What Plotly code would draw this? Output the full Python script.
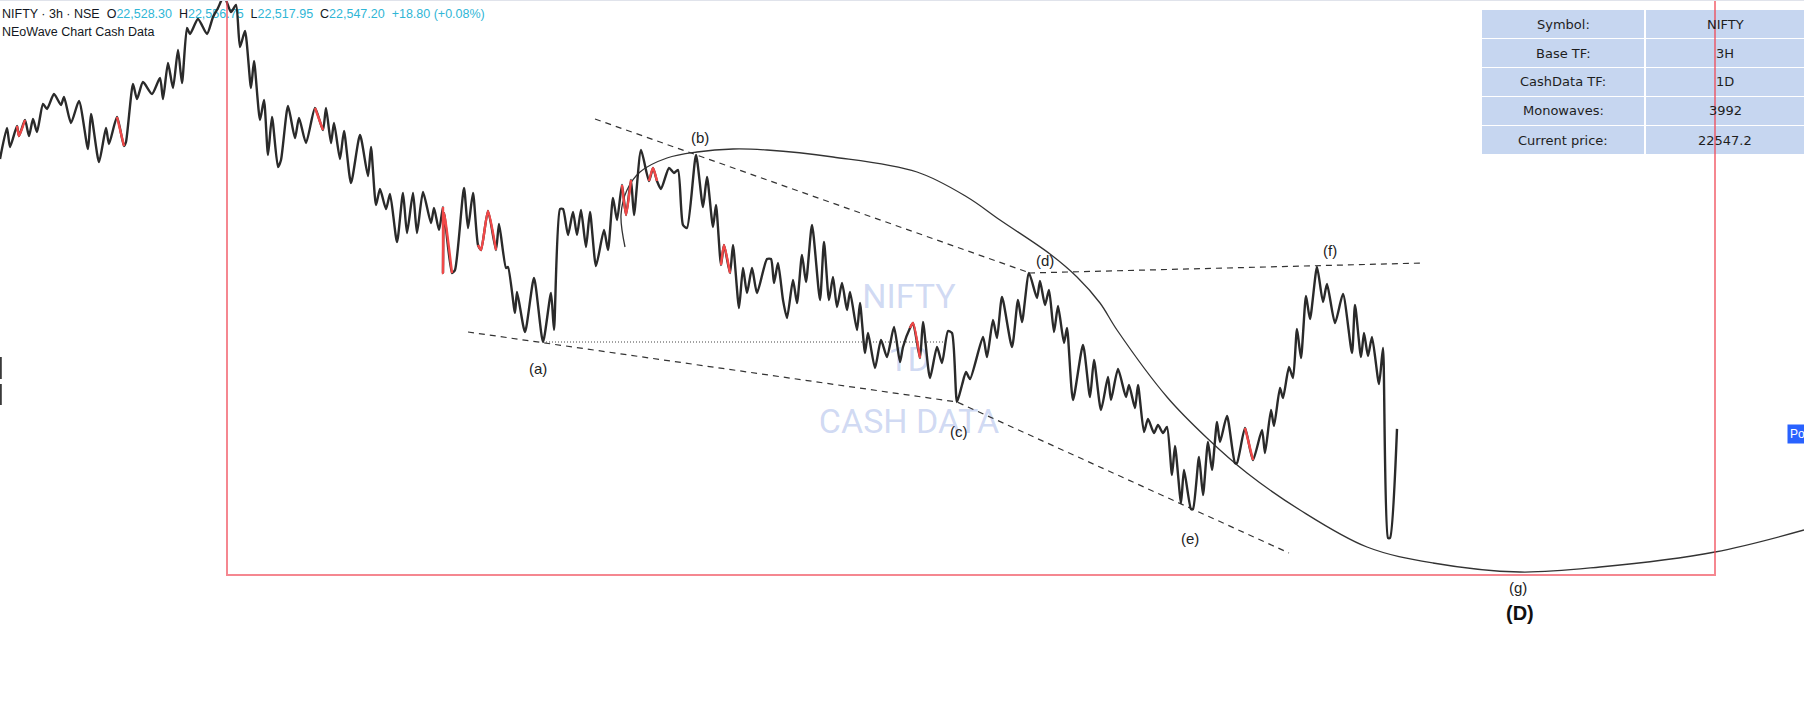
import plotly.graph_objects as go

# ---------------- data (bar index, price) ----------------
BAR = [0, 7, 10, 17, 19, 25, 29, 33, 37, 43,
       47, 54, 61, 64, 71, 79, 88, 91, 99, 106,
       109, 117, 124, 126, 133, 137, 143, 152, 160, 163,
       168, 173, 178, 182, 187, 190, 198, 207, 213, 218,
       224, 231, 236, 240, 245, 251, 254, 260, 264, 268,
       272, 278, 281, 288, 295, 299, 306, 315, 323, 326,
       331, 334, 340, 344, 351, 360, 368, 371, 376, 380,
       386, 390, 397, 403, 407, 413, 417, 423, 431, 434,
       439, 443, 443, 444, 452, 455, 464, 468, 473, 478,
       481, 488, 496, 499, 506, 508, 515, 517, 525, 534,
       543, 551, 554, 560, 563, 568, 573, 577, 581, 586,
       590, 596, 604, 608, 613, 617, 622, 626, 631, 634,
       641, 649, 653, 657, 661, 669, 674, 678, 683, 687,
       696, 703, 707, 713, 716, 721, 724, 730, 733, 739,
       743, 747, 752, 757, 767, 771, 774, 778, 783, 787,
       793, 797, 802, 806, 812, 820, 824, 829, 833, 837,
       842, 847, 850, 857, 860, 865, 868, 875, 881, 887,
       894, 900, 903, 910, 913, 920, 923, 930, 937, 942,
       948, 952, 957, 962, 966, 970, 983, 987, 993, 997,
       1002, 1012, 1018, 1022, 1029, 1037, 1040, 1045, 1049, 1054,
       1058, 1064, 1067, 1073, 1083, 1090, 1094, 1101, 1108, 1111,
       1118, 1126, 1129, 1135, 1138, 1144, 1148, 1154, 1158, 1163,
       1167, 1172, 1175, 1181, 1184, 1191, 1193, 1199, 1203, 1208,
       1212, 1217, 1220, 1227, 1235, 1237, 1245, 1253, 1262, 1265,
       1271, 1274, 1280, 1283, 1289, 1293, 1297, 1301, 1306, 1310,
       1317, 1323, 1327, 1335, 1343, 1352, 1355, 1361, 1364, 1368,
       1372, 1379, 1383, 1388, 1390, 1397]

PRICE = [23087, 23149, 23111, 23153, 23133, 23165, 23133, 23167, 23141, 23197,
         23187, 23217, 23195, 23211, 23159, 23203, 23107, 23177, 23081, 23149,
         23117, 23171, 23113, 23121, 23237, 23207, 23241, 23217, 23249, 23207,
         23279, 23229, 23305, 23239, 23349, 23337, 23367, 23337, 23371, 23389,
         23413, 23381, 23395, 23311, 23343, 23229, 23283, 23165, 23205, 23095,
         23171, 23071, 23085, 23193, 23129, 23169, 23119, 23189, 23145, 23189,
         23119, 23159, 23087, 23143, 23039, 23135, 23053, 23111, 22995, 23027,
         22987, 23017, 22921, 23019, 22939, 23019, 22939, 23021, 22959, 22989,
         22945, 22991, 22859, 22979, 22859, 22865, 23029, 22949, 23019, 22915,
         22905, 22983, 22905, 22957, 22869, 22871, 22779, 22821, 22741, 22849,
         22721, 22819, 22745, 22987, 22987, 22935, 22981, 22935, 22985, 22911,
         22981, 22873, 22945, 22905, 23009, 22965, 23035, 22975, 23045, 22975,
         23105, 23043, 23069, 23043, 23027, 23069, 23059, 23065, 22955, 22949,
         23095, 22991, 23051, 22951, 22995, 22875, 22915, 22859, 22915, 22789,
         22869, 22819, 22869, 22819, 22887, 22887, 22839, 22879, 22805, 22769,
         22845, 22799, 22895, 22841, 22955, 22805, 22921, 22805, 22851, 22791,
         22839, 22785, 22821, 22745, 22799, 22699, 22739, 22669, 22725, 22691,
         22751, 22681, 22711, 22749, 22759, 22689, 22761, 22649, 22711, 22679,
         22743, 22739, 22601, 22635, 22661, 22647, 22731, 22691, 22765, 22729,
         22811, 22711, 22805, 22761, 22859, 22809, 22843, 22795, 22825, 22741,
         22793, 22719, 22749, 22605, 22715, 22611, 22685, 22585, 22651, 22605,
         22667, 22611, 22635, 22589, 22635, 22541, 22567, 22539, 22555, 22539,
         22551, 22455, 22513, 22399, 22465, 22387, 22387, 22491, 22415, 22521,
         22465, 22561, 22521, 22573, 22479, 22479, 22549, 22485, 22545, 22499,
         22585, 22553, 22629, 22609, 22671, 22649, 22747, 22689, 22813, 22767,
         22871, 22801, 22837, 22759, 22817, 22699, 22795, 22691, 22739, 22693,
         22731, 22637, 22709, 22329, 22329, 22547.2]

# index ranges (inclusive) of monowaves drawn in red
RED_SEGMENTS = [(3, 5), (21, 22), (57, 58), (81, 84), (89, 92),
                (116, 118), (121, 123), (135, 137), (173, 175), (236, 237)]

# hand-drawn projection curve
CURVE_BAR = [625, 621, 627, 640, 667, 697, 733, 767, 833, 917, 967, 1000, 1050,
             1077, 1100, 1117, 1167, 1207, 1247, 1300, 1367, 1433, 1520, 1600, 1715, 1804]
CURVE_PRICE = [22911, 22975, 23025, 23061, 23089, 23101, 23107, 23105, 23091, 23061,
               23011, 22965, 22897, 22851, 22799, 22745, 22611, 22529, 22459, 22385,
               22311, 22279, 22261, 22271, 22301, 22345]

# trendlines
BD_BAR, BD_PRICE = [595, 1030], [23167, 22859]
DF_BAR, DF_PRICE = [1029, 1423], [22859, 22879]
ACE_BAR, ACE_PRICE = [468, 957, 1289], [22741, 22601, 22299]
A_LEVEL_BAR, A_LEVEL_PRICE = [543, 943], [22721, 22721]

# wave labels
WAVE_LABELS = ["(a)", "(b)", "(c)", "(d)", "(e)", "(f)", "(g)"]
WAVE_BAR = [538, 700, 959, 1045, 1190, 1330, 1518]
WAVE_PRICE = [22669, 23131, 22543, 22885, 22329, 22905, 22231]
DEGREE_LABEL, DEGREE_BAR, DEGREE_PRICE = "(D)", 1520, 22179

# highlighted zone
ZONE_BAR = [227, 1715]
ZONE_PRICE = [22255, 23450]

# info table
TABLE_KEYS = ["Symbol:", "Base TF:", "CashData TF:", "Monowaves:", "Current price:"]
TABLE_VALUES = ["NIFTY", "3H", "1D", "3992", "22547.2"]

# legend header
SYMBOL = "NIFTY · 3h · NSE"
OHLC_KEYS = ["O", "H", "L", "C"]
OHLC_VALUES = ["22,528.30", "22,556.75", "22,517.95", "22,547.20"]
CHANGE = "+18.80 (+0.08%)"
INDICATOR = "NEoWave Chart Cash Data"
WATERMARK = ["NIFTY", "1D", "CASH DATA"]
WATERMARK_PRICE = [22807, 22681, 22557]
WATERMARK_BAR = 909

# ---------------- figure ----------------
W, H = 1804, 724
X_RANGE = [0, 1804]
Y_RANGE = [21957, 23405]

fig = go.Figure()

# watermark (behind everything)
fig.add_trace(go.Scatter(
    x=[WATERMARK_BAR] * len(WATERMARK), y=WATERMARK_PRICE, text=WATERMARK,
    mode="text", textposition="middle center",
    textfont=dict(family="Roboto", size=34, color="rgba(150,172,228,0.45)"),
    hoverinfo="skip", showlegend=False))

# header text
teal = "#2fb6d6"
nb = "\u00a0"
hdr = SYMBOL + nb + nb
for k, v in zip(OHLC_KEYS, OHLC_VALUES):
    hdr += f"{k}<span style='color:{teal}'>{v}</span>{nb}{nb}"
hdr += f"<span style='color:{teal}'>{CHANGE}</span>"
fig.add_trace(go.Scatter(
    x=[2, 2], y=[23375, 23339], text=[hdr, INDICATOR], mode="text",
    textposition="middle right",
    textfont=dict(family="Liberation Sans", size=12.5, color="#131722"),
    hoverinfo="skip", showlegend=False))

# curve
fig.add_trace(go.Scatter(x=CURVE_BAR, y=CURVE_PRICE, mode="lines",
                         line=dict(color="#333333", width=1.3, shape="spline", smoothing=1.0),
                         hoverinfo="skip", showlegend=False))

dash = "6px,5px"
for bx, py in [(BD_BAR, BD_PRICE), (DF_BAR, DF_PRICE), (ACE_BAR, ACE_PRICE)]:
    fig.add_trace(go.Scatter(x=bx, y=py, mode="lines",
                             line=dict(color="#333333", width=1.2, dash=dash),
                             hoverinfo="skip", showlegend=False))
fig.add_trace(go.Scatter(x=A_LEVEL_BAR, y=A_LEVEL_PRICE, mode="lines",
                         line=dict(color="#444444", width=1, dash="1px,2px"),
                         hoverinfo="skip", showlegend=False))

# price line
fig.add_trace(go.Scatter(x=BAR, y=PRICE, mode="lines",
                         line=dict(color="#2a2a2a", width=2.4, shape="spline", smoothing=0.6),
                         hoverinfo="skip", showlegend=False))
for a, b in RED_SEGMENTS:
    fig.add_trace(go.Scatter(x=BAR[a:b + 1], y=PRICE[a:b + 1], mode="lines",
                             line=dict(color="#f24848", width=2.4, shape="spline", smoothing=0.6),
                             hoverinfo="skip", showlegend=False))


def px_x(v):
    return v / W


def px_y(v):
    return 1 - v / H


shapes = []
annotations = []

# table
col_l = (1482, 1644)
col_r = (1646, 1810)
for i, (k, v) in enumerate(zip(TABLE_KEYS, TABLE_VALUES)):
    top = 10 + i * 29
    bot = top + 28
    for (c0, c1), txt in [(col_l, k), (col_r, v)]:
        shapes.append(dict(type="rect", xref="paper", yref="paper",
                           x0=px_x(c0), x1=px_x(c1), y0=px_y(bot), y1=px_y(top),
                           fillcolor="#c6d6f0", line=dict(width=0), layer="above"))
        annotations.append(dict(xref="paper", yref="paper",
                                x=px_x((c0 + min(c1, 1804)) / 2), y=px_y((top + bot) / 2),
                                text=txt, showarrow=False, xanchor="center", yanchor="middle",
                                font=dict(family="DejaVu Sans", size=13, color="#1e1e1e")))

# red zone rectangle
shapes.append(dict(type="rect", xref="x", yref="y",
                   x0=ZONE_BAR[0], x1=ZONE_BAR[1], y0=ZONE_PRICE[0], y1=ZONE_PRICE[1],
                   line=dict(color="rgba(240,70,85,0.65)", width=2), fillcolor="rgba(0,0,0,0)",
                   layer="above"))

# top border and left-edge marker
shapes.append(dict(type="line", xref="paper", yref="paper", x0=0, x1=1,
                   y0=px_y(0.5), y1=px_y(0.5), line=dict(color="#e0e3eb", width=1)))
shapes.append(dict(type="line", xref="paper", yref="paper", x0=px_x(0.8), x1=px_x(0.8),
                   y0=px_y(357), y1=px_y(379), line=dict(color="#3a3a3a", width=2)))
shapes.append(dict(type="line", xref="paper", yref="paper", x0=px_x(0.8), x1=px_x(0.8),
                   y0=px_y(384), y1=px_y(405), line=dict(color="#3a3a3a", width=2)))

# wave labels
for t, bx, py in zip(WAVE_LABELS, WAVE_BAR, WAVE_PRICE):
    annotations.append(dict(x=bx, y=py, xref="x", yref="y", text=t, showarrow=False,
                            xanchor="center", yanchor="middle",
                            font=dict(family="Liberation Sans", size=15, color="#222222")))
annotations.append(dict(x=DEGREE_BAR, y=DEGREE_PRICE, xref="x", yref="y",
                        text=f"<b>{DEGREE_LABEL}</b>", showarrow=False,
                        xanchor="center", yanchor="middle",
                        font=dict(family="Liberation Sans", size=20, color="#111111")))

# price scale tag at right edge
annotations.append(dict(xref="paper", yref="paper", x=px_x(1787), y=px_y(434),
                        text="Po", showarrow=False, xanchor="left", yanchor="middle",
                        bgcolor="#2962ff", borderpad=2,
                        font=dict(family="Liberation Sans", size=12, color="#ffffff")))

fig.update_layout(
    width=W, height=H,
    margin=dict(l=0, r=0, t=0, b=0, pad=0),
    paper_bgcolor="#ffffff", plot_bgcolor="#ffffff",
    xaxis=dict(range=X_RANGE, visible=False, showgrid=False, zeroline=False, fixedrange=True),
    yaxis=dict(range=Y_RANGE, visible=False, showgrid=False, zeroline=False, fixedrange=True),
    showlegend=False,
    shapes=shapes,
    annotations=annotations,
)

fig.write_html("out.html", config={"displayModeBar": False},
               post_script="document.body.style.margin='0';document.body.style.overflow='hidden';")
